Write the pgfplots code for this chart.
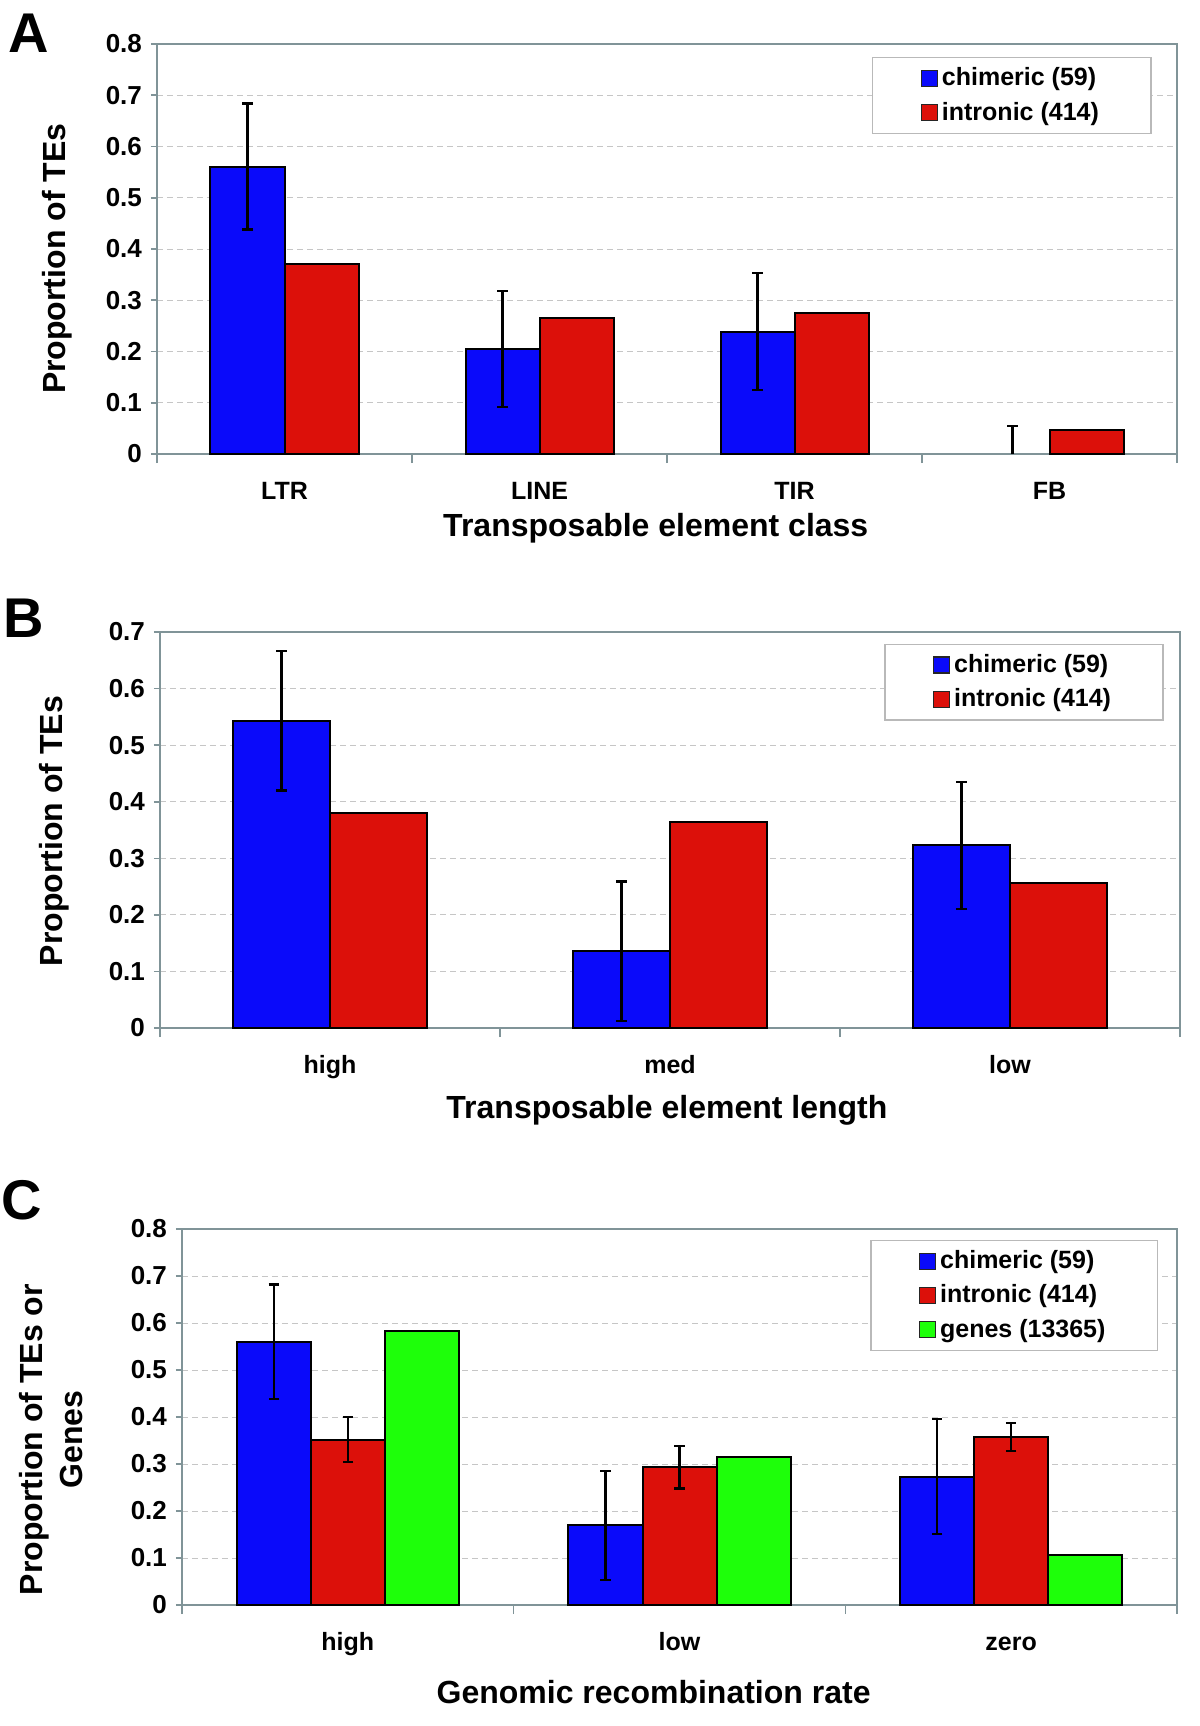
\documentclass[border=0pt]{standalone}
\usepackage{fontspec}
\setmainfont{Liberation Sans}
\usepackage{pgfplots}
\pgfplotsset{compat=1.18}
\definecolor{cblue}{RGB}{10,10,250}
\definecolor{cred}{RGB}{220,16,10}
\definecolor{cgreen}{RGB}{30,255,10}
\definecolor{frame}{RGB}{128,148,152}
\pgfplotsset{
 excel/.style={
  scale only axis,
  anchor=south west,
  ybar,
  ymin=0,
  axis line style={draw=frame, line width=1pt},
  ymajorgrids,
  grid style={densely dashed, gray!45, line width=0.4pt},
  tick align=outside,
  tick pos=left,
  major tick length=3pt,
  minor tick length=4.5pt,
  tick style={draw=frame, line width=0.8pt},
  major x tick style={draw=none},
  minor x tick style={draw=frame, line width=0.8pt},
  /pgf/number format/assume math mode=true,
  yticklabel style={font=\bfseries\fontsize{13}{15}\selectfont, xshift=-1pt},
  xticklabel style={font=\bfseries\fontsize{12.5}{15}\selectfont, anchor=base, yshift=-19.8pt},
  label style={font=\bfseries\fontsize{16}{20}\selectfont},
  legend style={draw=gray!55, line width=0.6pt, inner xsep=24pt, inner ysep=3pt, row sep=2.6pt,
    font=\bfseries\fontsize{12.5}{15}\selectfont, legend cell align=left},
  legend image code/.code={\draw[#1, draw=black!85, line width=0.6pt] (0pt,-4pt) rectangle (8pt,4pt);},
  every axis plot/.append style={draw=black, line width=1pt},
  error bars/error bar style={draw=black, line width=1.1pt},
  error bars/error mark options={draw=black, line width=1.1pt, mark size=2.6pt, rotate=90},
 }
}
\begin{document}
\begin{tikzpicture}
\useasboundingbox (0pt,0pt) rectangle (600pt,-863pt);

% ---------------- Panel A ----------------
\begin{axis}[excel, at={(78.5pt,-227pt)}, width=510pt, height=205pt,
  xmin=0, xmax=4, ymax=0.8,
  xtick={0.5,1.5,2.5,3.5}, xticklabels={LTR,LINE,TIR,FB},
  minor xtick={0,1,2,3,4},
  ytick={0,0.1,0.2,0.3,0.4,0.5,0.6,0.7,0.8},
  yticklabels={0,0.1,0.2,0.3,0.4,0.5,0.6,0.7,0.8},
  bar width=37pt,
  xlabel={Transposable element class}, ylabel={Proportion of TEs},
  xlabel style={at={(axis description cs:0.489,-0.181)}, anchor=center},
  ylabel style={at={(axis description cs:-0.098,0.476)}, anchor=center},
  legend style={at={(0.975,0.968)}, anchor=north east}]
\addplot[fill=cblue, bar shift=-18.5pt, error bars/.cd, y dir=both, y explicit]
 table[x=x, y=y, y error=e]{
 x   y     e
 0.5 0.561 0.123
 1.5 0.205 0.113
 2.5 0.239 0.114
};
\addplot[fill=cred, bar shift=18.5pt]
 table[x=x, y=y]{
 x   y
 0.5 0.370
 1.5 0.266
 2.5 0.275
 3.5 0.047
};
\addplot[draw=none, fill=none, bar shift=-18.5pt, forget plot, error bars/.cd, y dir=plus, y explicit]
 table[x=x, y=y, y error=e]{
 x   y   e
 3.5 0   0.055
};
\legend{chimeric (59), intronic (414)}
\end{axis}
\node[font=\bfseries\fontsize{28}{28}\selectfont] at (14.5pt,-16.5pt) {A};

% ---------------- Panel B ----------------
\begin{axis}[excel, at={(80pt,-514pt)}, width=510pt, height=198pt,
  xmin=0, xmax=3, ymax=0.7,
  xtick={0.5,1.5,2.5}, xticklabels={high,med,low},
  minor xtick={0,1,2,3},
  ytick={0,0.1,0.2,0.3,0.4,0.5,0.6,0.7},
  yticklabels={0,0.1,0.2,0.3,0.4,0.5,0.6,0.7},
  bar width=48.5pt,
  xlabel={Transposable element length}, ylabel={Proportion of TEs},
  xlabel style={at={(axis description cs:0.497,-0.208)}, anchor=center},
  ylabel style={at={(axis description cs:-0.104,0.497)}, anchor=center},
  legend style={at={(0.984,0.970)}, anchor=north east}]
\addplot[fill=cblue, bar shift=-24.25pt, error bars/.cd, y dir=both, y explicit]
 table[x=x, y=y, y error=e]{
 x   y     e
 0.5 0.543 0.123
 1.5 0.136 0.123
 2.5 0.323 0.112
};
\addplot[fill=cred, bar shift=24.25pt]
 table[x=x, y=y]{
 x   y
 0.5 0.380
 1.5 0.365
 2.5 0.257
};
\legend{chimeric (59), intronic (414)}
\end{axis}
\node[font=\bfseries\fontsize{28}{28}\selectfont] at (12pt,-309pt) {B};

% ---------------- Panel C ----------------
\begin{axis}[excel, at={(91pt,-802.5pt)}, width=497.5pt, height=188pt,
  xmin=0, xmax=3, ymax=0.8,
  xtick={0.5,1.5,2.5}, xticklabels={high,low,zero},
  minor xtick={0,1,2,3},
  ytick={0,0.1,0.2,0.3,0.4,0.5,0.6,0.7,0.8},
  yticklabels={0,0.1,0.2,0.3,0.4,0.5,0.6,0.7,0.8},
  bar width=37pt,
  xlabel={Genomic recombination rate},
  ylabel={Proportion of TEs or\\Genes},
  xlabel style={at={(axis description cs:0.474,-0.232)}, anchor=center},
  ylabel style={at={(axis description cs:-0.132,0.44)}, anchor=center, align=center, font=\bfseries\fontsize{16}{20}\selectfont},
  legend style={at={(0.981,0.971)}, anchor=north east}]
\addplot[fill=cblue, bar shift=-37pt, error bars/.cd, y dir=both, y explicit]
 table[x=x, y=y, y error=e]{
 x   y     e
 0.5 0.560 0.122
 1.5 0.170 0.116
 2.5 0.273 0.122
};
\addplot[fill=cred, bar shift=0pt, error bars/.cd, y dir=both, y explicit]
 table[x=x, y=y, y error=e]{
 x   y     e
 0.5 0.352 0.048
 1.5 0.293 0.045
 2.5 0.358 0.030
};
\addplot[fill=cgreen, bar shift=37pt]
 table[x=x, y=y]{
 x   y
 0.5 0.582
 1.5 0.315
 2.5 0.106
};
\legend{chimeric (59), intronic (414), genes (13365)}
\end{axis}
\node[font=\bfseries\fontsize{28}{28}\selectfont] at (11pt,-600pt) {C};
\end{tikzpicture}
\end{document}
